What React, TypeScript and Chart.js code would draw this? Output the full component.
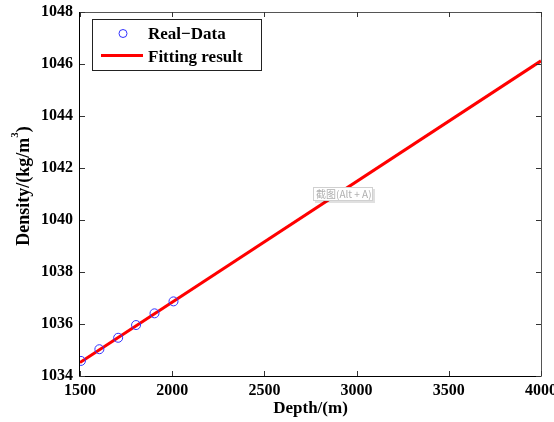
import React, { useEffect, useRef } from "react";
import { Chart, registerables } from "chart.js";

Chart.register(...registerables);

const depths = [1505, 1605, 1707, 1804, 1904, 2007];
const densities = [1034.58, 1035.03, 1035.47, 1035.96, 1036.41, 1036.87];
const fitDepths = [1500, 4000];
const fitDensities = [1034.52, 1046.12];
const seriesNames = ["Real\u2212Data", "Fitting result"];
const xTitle = "Depth/(m)";
const yTitleMain = "Density/(kg/m";
const yTitleSup = "3";
const yTitleEnd = ")";
const watermark = "截图(Alt + A)";

const SERIF = "'Liberation Serif', 'Times New Roman', serif";

const framePlugin = {
  id: "frame",
  afterDatasetsDraw(chart: any) {
    const { ctx, chartArea: a, scales } = chart;
    ctx.save();
    ctx.lineWidth = 1;
    ctx.strokeStyle = "#555";
    ctx.beginPath();
    ctx.moveTo(a.left, a.top + 0.5);
    ctx.lineTo(a.right + 0.5, a.top + 0.5);
    ctx.lineTo(a.right + 0.5, a.bottom);
    ctx.stroke();
    ctx.strokeStyle = "#000";
    ctx.beginPath();
    ctx.moveTo(a.left - 0.5, a.top);
    ctx.lineTo(a.left - 0.5, a.bottom + 0.5);
    ctx.lineTo(a.right + 0.5, a.bottom + 0.5);
    ctx.stroke();
    const tl = 5;
    ctx.strokeStyle = "#333";
    ctx.beginPath();
    scales.x.ticks.forEach((t: any) => {
      const px = Math.round(scales.x.getPixelForValue(t.value)) + 0.5;
      ctx.moveTo(px, a.bottom);
      ctx.lineTo(px, a.bottom - tl);
      ctx.moveTo(px, a.top);
      ctx.lineTo(px, a.top + tl);
    });
    scales.y.ticks.forEach((t: any) => {
      const py = Math.round(scales.y.getPixelForValue(t.value)) + 0.5;
      ctx.moveTo(a.left, py);
      ctx.lineTo(a.left + tl, py);
      ctx.moveTo(a.right, py);
      ctx.lineTo(a.right - tl, py);
    });
    ctx.stroke();
    ctx.restore();
  },
  afterDraw(chart: any) {
    const { ctx, chartArea: a, scales } = chart;
    ctx.save();
    // legend
    const lx = a.left + 12.5;
    const ly = a.top + 7.5;
    const lw = 169;
    const lh = 51;
    ctx.fillStyle = "#fff";
    ctx.fillRect(lx, ly, lw, lh);
    ctx.strokeStyle = "#222";
    ctx.lineWidth = 1;
    ctx.strokeRect(lx, ly, lw, lh);
    ctx.strokeStyle = "#3333ff";
    ctx.beginPath();
    ctx.arc(lx + 30.5, ly + 14, 4, 0, Math.PI * 2);
    ctx.stroke();
    ctx.strokeStyle = "#ff0000";
    ctx.lineWidth = 3;
    ctx.beginPath();
    ctx.moveTo(lx + 8.5, ly + 36);
    ctx.lineTo(lx + 50.5, ly + 36);
    ctx.stroke();
    ctx.fillStyle = "#000";
    ctx.font = `bold 17px ${SERIF}`;
    ctx.textBaseline = "middle";
    ctx.textAlign = "left";
    ctx.fillText(seriesNames[0], lx + 55.5, ly + 15);
    ctx.fillText(seriesNames[1], lx + 55.5, ly + 38);

    // y title with superscript
    ctx.save();
    ctx.translate(23, (a.top + a.bottom) / 2 - 8);
    ctx.rotate(-Math.PI / 2);
    ctx.font = `bold 18px ${SERIF}`;
    const w1 = ctx.measureText(yTitleMain).width;
    ctx.font = `bold 11px ${SERIF}`;
    const w2 = ctx.measureText(yTitleSup).width;
    ctx.font = `bold 18px ${SERIF}`;
    const w3 = ctx.measureText(yTitleEnd).width;
    const total = w1 + w2 + w3;
    const x0 = -total / 2;
    ctx.textAlign = "left";
    ctx.textBaseline = "alphabetic";
    ctx.fillText(yTitleMain, x0, 6);
    ctx.font = `bold 11px ${SERIF}`;
    ctx.fillText(yTitleSup, x0 + w1, -5);
    ctx.font = `bold 18px ${SERIF}`;
    ctx.fillText(yTitleEnd, x0 + w1 + w2, 6);
    ctx.restore();

    // screenshot tooltip artifact
    const wx = Math.round(scales.x.getPixelForValue(2761));
    const wy = Math.round(scales.y.getPixelForValue(1041.27));
    ctx.fillStyle = "rgba(0,0,0,0.12)";
    ctx.fillRect(wx + 2, wy + 2, 60, 14);
    ctx.fillStyle = "#fff";
    ctx.fillRect(wx, wy, 60, 14);
    ctx.strokeStyle = "#d0d0d0";
    ctx.lineWidth = 1;
    ctx.strokeRect(wx + 0.5, wy + 0.5, 59, 13);
    ctx.fillStyle = "#b0b0b0";
    ctx.font = `10px 'Noto Sans CJK SC', 'Noto Sans', sans-serif`;
    ctx.textAlign = "left";
    ctx.textBaseline = "middle";
    ctx.fillText(watermark, wx + 3, wy + 7.5);
    ctx.restore();
  },
};

export default function App() {
  const ref = useRef<HTMLCanvasElement>(null);
  useEffect(() => {
    if (!ref.current) return;
    const chart = new Chart(ref.current, {
      type: "scatter",
      data: {
        datasets: [
          {
            label: seriesNames[1],
            data: fitDepths.map((d, i) => ({ x: d, y: fitDensities[i] })),
            showLine: true,
            borderColor: "#ff0000",
            borderWidth: 3,
            pointRadius: 0,
            order: 2,
          },
          {
            label: seriesNames[0],
            data: depths.map((d, i) => ({ x: d, y: densities[i] })),
            showLine: false,
            pointStyle: "circle",
            pointRadius: 4.5,
            borderWidth: 1,
            borderColor: "#3333ff",
            backgroundColor: "rgba(0,0,0,0)",
            order: 1,
          },
        ],
      },
      options: {
        responsive: false,
        animation: false,
        layout: { padding: { top: 12, right: 13, left: 0, bottom: 0 } },
        plugins: { legend: { display: false }, tooltip: { enabled: false } },
        scales: {
          x: {
            type: "linear",
            min: 1500,
            max: 4000,
            afterFit: (s: any) => {
              s.height = 46;
              s.paddingLeft = 0;
              s.paddingRight = 0;
            },
            ticks: {
              stepSize: 500,
              color: "#000",
              padding: 5,
              maxRotation: 0,
              callback: (v: any) => String(v),
              font: { family: SERIF, size: 16, weight: "bold" },
            },
            grid: { display: false, drawTicks: false },
            border: { display: false },
            title: {
              display: true,
              text: xTitle,
              color: "#000",
              padding: { top: 0, bottom: 3 },
              font: { family: SERIF, size: 17, weight: "bold" },
            },
          },
          y: {
            type: "linear",
            min: 1034,
            max: 1048,
            afterFit: (s: any) => {
              s.width = 80;
              s.paddingTop = 0;
              s.paddingBottom = 0;
            },
            ticks: {
              stepSize: 2,
              color: "#000",
              padding: 7,
              callback: (v: any) => String(v),
              font: { family: SERIF, size: 16, weight: "bold" },
            },
            grid: { display: false, drawTicks: false },
            border: { display: false },
          },
        },
      },
      plugins: [framePlugin],
    });
    return () => chart.destroy();
  }, []);
  return (
    <div style={{ position: "fixed", left: 0, top: 0, width: 554, height: 422, background: "#fff" }}>
      <canvas ref={ref} width={554} height={422} style={{ display: "block" }} />
    </div>
  );
}
